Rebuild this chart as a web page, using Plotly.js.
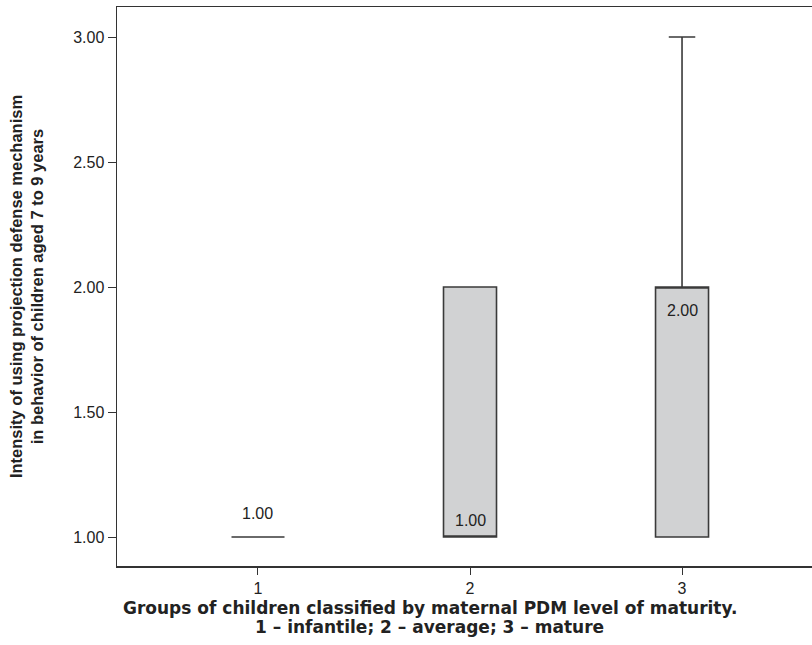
<!DOCTYPE html>
<html><head><meta charset="utf-8">
<script src="https://cdn.plot.ly/plotly-3.0.1.min.js"></script>
<style>html,body{margin:0;padding:0;background:#fff}#chart{width:812px;height:645px}</style>
</head><body><div id="chart"></div>
<script>
const groups = [1, 2, 3];
const q1 = [1.00, 1.00, 1.00];
const medians = [1.00, 1.00, 2.00];
const q3 = [1.00, 2.00, 2.00];
const lowerFence = [1.00, 1.00, 1.00];
const upperFence = [1.00, 2.00, 3.00];
const medianLabels = ["1.00", "1.00", "2.00"];
const labelShift = [24, 17, -23];
const yTickVals = [1.0, 1.5, 2.0, 2.5, 3.0];
const yTickText = ["1.00", "1.50", "2.00", "2.50", "3.00"];
const xTitleLines = ["Groups of children classified by maternal PDM level of maturity.",
                     "1 – infantile; 2 – average; 3 – mature"];

const trace = {
  type: 'box',
  x: groups,
  q1: q1, median: medians, q3: q3,
  lowerfence: lowerFence, upperfence: upperFence,
  width: 0.25,
  whiskerwidth: 0.5,
  fillcolor: '#d1d2d3',
  line: {color: '#3a3a3a', width: 1.6},
  boxpoints: false,
  hoverinfo: 'skip',
  showlegend: false
};

const annotations = groups.map((g, i) => ({
  x: g, y: medians[i], xref: 'x', yref: 'y',
  text: medianLabels[i], showarrow: false, yshift: labelShift[i],
  font: {family: 'Liberation Sans, Arial, sans-serif', size: 16, color: '#222'}
}));
const titleY = [-0.0755, -0.109];
xTitleLines.forEach((t, i) => annotations.push({
  x: 0.450, y: titleY[i], xref: 'paper', yref: 'paper',
  xanchor: 'center', yanchor: 'middle', showarrow: false, borderpad: 0,
  text: '<b>' + t + '</b>',
  font: {family: 'DejaVu Sans, sans-serif', size: 17, color: '#222'}
}));

const layout = {
  width: 812, height: 645,
  margin: {l: 117, r: 0, t: 7, b: 79},
  paper_bgcolor: '#fff', plot_bgcolor: '#fff',
  font: {family: 'Liberation Sans, Arial, sans-serif', color: '#222'},
  xaxis: {
    range: [0.335, 3.613],
    tickvals: groups, ticktext: groups.map(String),
    ticks: 'outside', ticklen: 7, tickcolor: '#333', tickwidth: 1,
    showline: true, linecolor: '#333', linewidth: 1.5, mirror: true,
    showgrid: false, zeroline: false,
    tickfont: {size: 16, color: '#222'}
  },
  yaxis: {
    range: [0.884, 3.12],
    tickvals: yTickVals, ticktext: yTickText,
    ticks: 'outside', ticklen: 8, tickcolor: '#333', tickwidth: 1,
    showline: true, linecolor: '#333', linewidth: 1.5, mirror: false,
    showgrid: false, zeroline: false,
    tickfont: {size: 16, color: '#222'},
    title: {text: '<b>Intensity of using projection defense mechanism</b><br><b>in behavior of children aged 7 to 9 years</b>',
            font: {size: 16.5, color: '#222'}, standoff: 25}
  },
  annotations: annotations
};

Plotly.newPlot('chart', [trace], layout, {displayModeBar: false, staticPlot: true});
</script></body></html>
